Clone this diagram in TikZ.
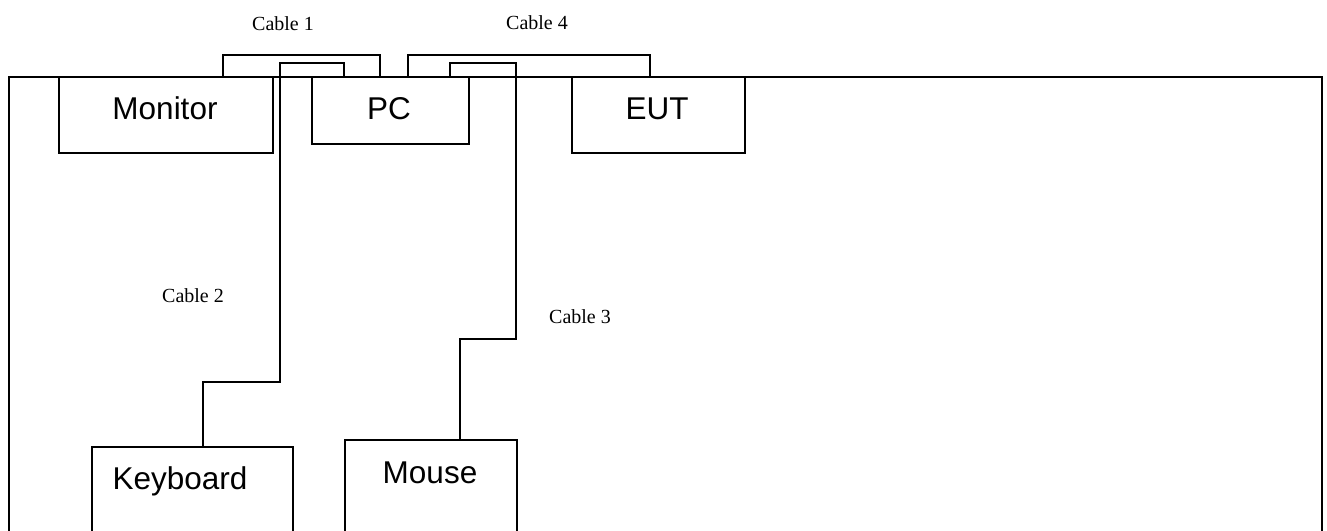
\documentclass[tikz,border=0pt]{standalone}
\usepackage{fontspec}
\setmainfont{Liberation Serif}
\newfontfamily\arialf{Liberation Sans}
\begin{document}
\begin{tikzpicture}[x=1pt,y=-1pt,line width=1.6pt,
  box/.style={draw, rectangle, inner sep=0pt, anchor=north west},
  lbl/.style={font=\arialf\fontsize{31.5}{36}\selectfont, anchor=base, inner sep=0pt},
  cbl/.style={font=\fontsize{20}{24}\selectfont, anchor=base, inner sep=0pt},
  cable/.style={draw, line width=1.6pt}]
\useasboundingbox (0,0) rectangle (1327,530);
\clip (0,0) rectangle (1327,530);
% table outline
\node[box, minimum width=1313pt, minimum height=600pt] (table) at (8,76) {};
% equipment
\node[box, minimum width=214pt, minimum height=76pt] (monitor) at (58,76) {};
\node[box, minimum width=157pt, minimum height=67pt] (pc) at (311,76) {};
\node[box, minimum width=173pt, minimum height=76pt] (eut) at (571,76) {};
\node[box, minimum width=201pt, minimum height=200pt] (keyboard) at (91,446) {};
\node[box, minimum width=172pt, minimum height=200pt] (mouse) at (344,439) {};
% labels
\node[lbl] (tmon) at (165,119) {Monitor};
\node[lbl] (tpc) at (389,119) {PC};
\node[lbl] (teut) at (657,119) {EUT};
\node[lbl] (tkey) at (180,489) {Keyboard};
\node[lbl] (tmouse) at (430,483) {Mouse};
% cables
\draw[cable] ([xshift=165pt]monitor.north west) -- ++(0,-21) -| ([xshift=69pt]pc.north west);
\draw[cable] ([xshift=33pt]pc.north west) -- ++(0,-13) -- ++(-64,0) -- ++(0,319) -| ([xshift=112pt]keyboard.north west);
\draw[cable] ([xshift=139pt]pc.north west) -- ++(0,-13) -- ++(66,0) -- ++(0,276) -| ([xshift=116pt]mouse.north west);
\draw[cable] ([xshift=97pt]pc.north west) -- ++(0,-21) -| ([xshift=79pt]eut.north west);
% cable labels
\node[cbl] (c1) at (283,30) {Cable 1};
\node[cbl] (c4) at (537,29) {Cable 4};
\node[cbl] (c2) at (193,302) {Cable 2};
\node[cbl] (c3) at (580,323) {Cable 3};
\end{tikzpicture}
\end{document}
